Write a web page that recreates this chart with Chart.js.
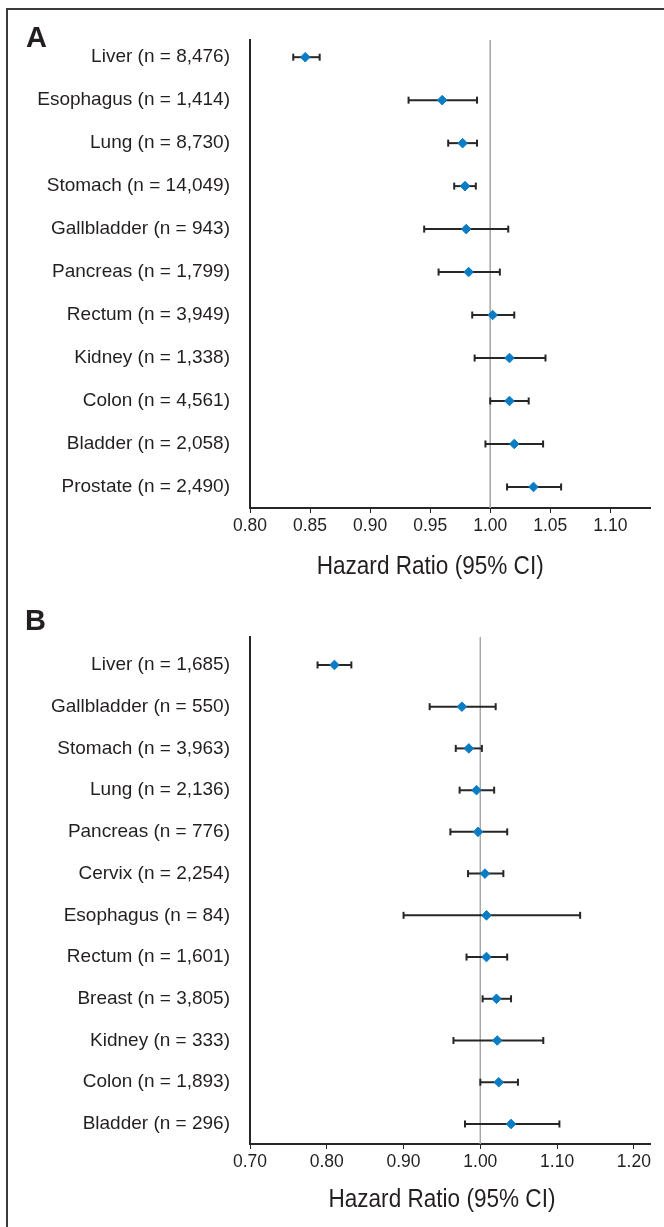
<!DOCTYPE html>
<html>
<head>
<meta charset="utf-8">
<script src="https://cdn.jsdelivr.net/npm/chart.js@4.4.1/dist/chart.umd.min.js"></script>
<style>
  html, body { margin: 0; padding: 0; background: #ffffff; }
  body { width: 664px; height: 1227px; position: relative; overflow: hidden; font-family: "Liberation Sans", Arial, sans-serif; }
  #frame { position: absolute; left: 6px; top: 8px; width: 700px; height: 1300px; border-top: 2px solid #3a3a3a; border-left: 2px solid #3a3a3a; }
  .panel { position: absolute; left: 0; width: 664px; }
  .letter { position: absolute; font: bold 29px/29px "Liberation Sans", Arial, sans-serif; color: #231f20; }
</style>
</head>
<body>
<div id="frame"></div>
<div class="panel" style="top:0;height:598px"><canvas id="chartA"></canvas></div>
<div class="panel" style="top:598px;height:629px"><canvas id="chartB"></canvas></div>
<div class="letter" style="left:26px;top:23px">A</div>
<div class="letter" style="left:25px;top:606px">B</div>
<script>
// ---------- Panel A data ----------
const labelsA = ["Liver (n = 8,476)", "Esophagus (n = 1,414)", "Lung (n = 8,730)", "Stomach (n = 14,049)",
  "Gallbladder (n = 943)", "Pancreas (n = 1,799)", "Rectum (n = 3,949)", "Kidney (n = 1,338)",
  "Colon (n = 4,561)", "Bladder (n = 2,058)", "Prostate (n = 2,490)"];
const hrA    = [0.846, 0.960, 0.977, 0.979, 0.980, 0.982, 1.002, 1.016, 1.016, 1.020, 1.036];
const lowerA = [0.836, 0.932, 0.965, 0.970, 0.945, 0.957, 0.985, 0.987, 1.000, 0.996, 1.014];
const upperA = [0.858, 0.989, 0.989, 0.988, 1.015, 1.008, 1.020, 1.046, 1.032, 1.044, 1.059];
const ticksA = [0.80, 0.85, 0.90, 0.95, 1.00, 1.05, 1.10];

// ---------- Panel B data ----------
const labelsB = ["Liver (n = 1,685)", "Gallbladder (n = 550)", "Stomach (n = 3,963)", "Lung (n = 2,136)",
  "Pancreas (n = 776)", "Cervix (n = 2,254)", "Esophagus (n = 84)", "Rectum (n = 1,601)",
  "Breast (n = 3,805)", "Kidney (n = 333)", "Colon (n = 1,893)", "Bladder (n = 296)"];
const hrB    = [0.810, 0.976, 0.985, 0.995, 0.997, 1.006, 1.008, 1.008, 1.021, 1.022, 1.024, 1.040];
const lowerB = [0.788, 0.934, 0.968, 0.973, 0.961, 0.984, 0.900, 0.982, 1.003, 0.965, 1.000, 0.980];
const upperB = [0.832, 1.020, 1.002, 1.018, 1.035, 1.030, 1.130, 1.035, 1.040, 1.082, 1.049, 1.103];
const ticksB = [0.70, 0.80, 0.90, 1.00, 1.10, 1.20];

const refValue = 1.00;
const axisTitle = "Hazard Ratio (95% CI)";

// ---------- styles ----------
const BLUE = '#0a7cc4';
const BAR = '#262626';
const AX = '#262626';
const TXT = '#231f20';
const REF = '#a8a8a8';
const FONT = '"Liberation Sans", Arial, sans-serif';
const TITLE_SIZE = 26.5;      // px, cap height like the condensed original
const TITLE_WIDTH = 227;      // px, rendered width of the original title

const axisTitlePlugin = {
  id: 'axisTitleAt',
  afterDraw(chart, args, opts) {
    const ctx = chart.ctx;
    const xs = chart.scales.x;
    const cx = xs.getPixelForValue(opts.centerValue);
    const cy = chart.chartArea.bottom + opts.offset;
    ctx.save();
    ctx.font = TITLE_SIZE + 'px ' + FONT;
    const w = ctx.measureText(opts.text).width;
    const sx = Math.min(1, TITLE_WIDTH / w);
    ctx.translate(cx, cy);
    ctx.scale(sx, 1);
    ctx.fillStyle = TXT;
    ctx.textAlign = 'center';
    ctx.textBaseline = 'middle';
    ctx.fillText(opts.text, 0, 0);
    ctx.restore();
  }
};

function makeChart(id, P) {
  const rows = P.labels.map((_, i) => i);
  const datasets = [];
  datasets.push({
    label: 'Hazard ratio',
    data: rows.map(i => ({ x: P.hr[i], y: i })),
    pointStyle: 'rectRot', pointRadius: 4.8,
    pointBackgroundColor: BLUE, pointBorderColor: BLUE, pointBorderWidth: 1,
    showLine: false, order: 0
  });
  datasets.push({
    label: 'CI caps',
    data: rows.flatMap(i => [{ x: P.lower[i], y: i }, { x: P.upper[i], y: i }]),
    pointStyle: 'line', pointRotation: 90, pointRadius: 3.5,
    pointBorderColor: BAR, pointBorderWidth: 2, pointBackgroundColor: BAR,
    showLine: false, order: 1
  });
  rows.forEach(i => datasets.push({
    label: 'CI',
    data: [{ x: P.lower[i], y: i }, { x: P.upper[i], y: i }],
    showLine: true, pointRadius: 0, borderColor: BAR, borderWidth: 2, order: 2
  }));
  datasets.push({
    label: 'Reference',
    data: [{ x: refValue, y: P.yMin }, { x: refValue, y: P.yMax }],
    showLine: true, pointRadius: 0, borderColor: REF, borderWidth: 1, order: 3
  });

  return new Chart(document.getElementById(id), {
    type: 'scatter',
    data: { datasets },
    plugins: [axisTitlePlugin],
    options: {
      responsive: true,
      maintainAspectRatio: false,
      animation: false,
      events: [],
      layout: { padding: { top: P.top, right: 14, bottom: 0, left: 0 } },
      plugins: {
        legend: { display: false },
        tooltip: { enabled: false },
        axisTitleAt: { text: axisTitle, centerValue: P.titleCenter, offset: P.titleOffset }
      },
      scales: {
        x: {
          type: 'linear',
          min: P.xMin, max: P.xMax,
          afterBuildTicks: s => { s.ticks = P.ticks.map(v => ({ value: v })); },
          afterFit: s => { s.height = P.xHeight; },
          ticks: {
            callback: v => Number(v).toFixed(2),
            font: { size: 17.5, family: FONT }, color: TXT, padding: 3,
            autoSkip: false, maxRotation: 0
          },
          grid: { display: true, drawOnChartArea: false, drawTicks: true, tickLength: 5, color: AX, lineWidth: 1 },
          border: { display: true, color: AX, width: 2 }
        },
        y: {
          type: 'linear',
          reverse: true,
          min: P.yMin, max: P.yMax,
          afterBuildTicks: s => { s.ticks = rows.map(i => ({ value: i })); },
          afterFit: s => { s.width = 250; },
          ticks: {
            callback: v => P.labels[v],
            font: { size: 19, family: FONT }, color: TXT, padding: 20, autoSkip: false
          },
          grid: { display: false, drawTicks: false },
          border: { display: true, color: AX, width: 2 }
        }
      }
    }
  });
}

makeChart('chartA', {
  labels: labelsA, hr: hrA, lower: lowerA, upper: upperA, ticks: ticksA,
  xMin: 0.80, xMax: 1.133, yMin: -0.40, yMax: 10.49,
  top: 40, xHeight: 90, titleCenter: 0.95, titleOffset: 58.7
});
makeChart('chartB', {
  labels: labelsB, hr: hrB, lower: lowerB, upper: upperB, ticks: ticksB,
  xMin: 0.70, xMax: 1.221, yMin: -0.67, yMax: 11.48,
  top: 39, xHeight: 83, titleCenter: 0.95, titleOffset: 56
});
</script>
</body>
</html>
